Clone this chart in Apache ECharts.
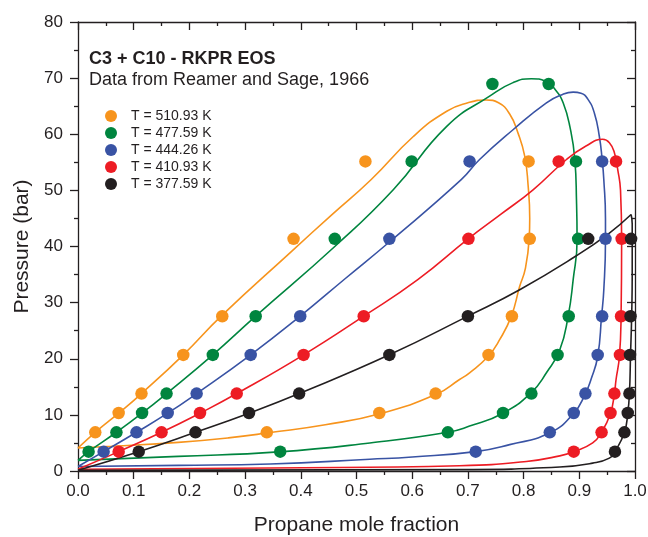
<!DOCTYPE html>
<html>
<head>
<meta charset="utf-8">
<script src="https://cdn.jsdelivr.net/npm/echarts@6/dist/echarts.min.js"></script>
<style>
html,body{margin:0;padding:0;background:#fff;}
#chart{width:648px;height:537px;}
</style>
</head>
<body>
<div id="chart"></div>
<script>
// ---------- DATA ----------
const pressureLevels = [3.45, 6.89, 10.34, 13.79, 20.68, 27.58, 41.37, 55.16, 68.95];
const seriesNames = ['T = 510.93 K', 'T = 477.59 K', 'T = 444.26 K', 'T = 410.93 K', 'T = 377.59 K'];

// measured liquid (bubble) and vapor (dew) propane mole fractions at each pressure level
const bubble510 = [null, 0.031, 0.073, 0.114, 0.189, 0.259, 0.387, 0.516, null];
const dew510    = [null, 0.339, 0.541, 0.642, 0.737, 0.779, 0.811, 0.809, null];
const bubble477 = [0.019, 0.069, 0.115, 0.159, 0.242, 0.319, 0.461, 0.599, 0.744];
const dew477    = [0.363, 0.664, 0.763, 0.814, 0.861, 0.881, 0.898, 0.894, 0.845];
const bubble444 = [0.046, 0.105, 0.161, 0.213, 0.310, 0.399, 0.559, 0.703, null];
const dew444    = [0.714, 0.847, 0.890, 0.911, 0.933, 0.941, 0.947, 0.941, null];
const bubble410 = [0.073, 0.150, 0.219, 0.285, 0.405, 0.513, 0.701, 0.863, null];
const dew410    = [0.890, 0.940, 0.956, 0.963, 0.973, 0.975, 0.976, 0.966, null];
const bubble377 = [0.109, 0.211, 0.307, 0.397, 0.559, 0.700, 0.916, null, null];
const dew377    = [0.964, 0.981, 0.987, 0.990, 0.991, 0.992, 0.993, null, null];

// RKPR EOS model curves [x, P]
const curve510 = [[0,4.1],[0.031,6.9],[0.073,10.3],[0.114,13.8],[0.189,20.7],[0.257,27.6],[0.383,39.1],[0.455,45.6],[0.526,51.9],[0.602,59.6],[0.662,64.1],[0.700,65.6],[0.733,66.1],[0.755,65.6],[0.775,63.6],[0.790,60.2],[0.802,56.1],[0.808,51.0],[0.811,45.0],[0.810,41.4],[0.803,36.0],[0.793,32.9],[0.778,27.6],[0.757,23.4],[0.736,20.4],[0.703,17.5],[0.685,16.3],[0.644,13.7],[0.542,10.2],[0.444,8.25],[0.345,6.85],[0.27,5.9],[0.18,5.1],[0.06,4.4],[0,4.1]];
const curve477 = [[0,1.9],[0.019,3.45],[0.069,6.9],[0.115,10.3],[0.159,13.8],[0.242,20.7],[0.319,27.6],[0.461,40.0],[0.566,50.1],[0.662,61.4],[0.739,66.8],[0.781,69.2],[0.814,69.9],[0.840,69.4],[0.858,67.8],[0.871,65.6],[0.883,61.4],[0.892,55.5],[0.895,48.0],[0.896,41.2],[0.889,34.1],[0.880,27.6],[0.865,21.6],[0.841,17.5],[0.814,14.0],[0.763,10.3],[0.703,8.0],[0.664,6.9],[0.524,5.0],[0.36,3.4],[0.18,2.6],[0,1.9]];
const curve444 = [[0,0.8],[0.046,3.45],[0.105,6.9],[0.161,10.3],[0.213,13.8],[0.310,20.7],[0.399,27.6],[0.480,34.3],[0.559,40.8],[0.688,51.9],[0.721,55.5],[0.781,60.8],[0.841,65.6],[0.870,67.1],[0.889,67.5],[0.903,67.3],[0.915,66.3],[0.927,63.8],[0.936,59.6],[0.941,55.5],[0.944,51.9],[0.947,45.0],[0.947,41.2],[0.944,32.3],[0.940,27.6],[0.933,20.4],[0.921,16.3],[0.911,13.8],[0.890,10.3],[0.847,6.8],[0.775,4.7],[0.714,3.45],[0.60,2.5],[0.524,2.1],[0.345,1.25],[0.18,1.0],[0,0.8]];
const curve410 = [[0,0.3],[0.073,3.45],[0.150,6.9],[0.219,10.3],[0.285,13.8],[0.405,20.7],[0.513,27.6],[0.610,34.1],[0.701,41.4],[0.760,45.8],[0.817,50.1],[0.877,55.5],[0.912,57.9],[0.942,59.1],[0.954,58.5],[0.963,56.7],[0.969,53.7],[0.974,50.0],[0.976,41.2],[0.975,27.6],[0.972,20.4],[0.966,16.3],[0.963,13.8],[0.956,10.3],[0.940,6.9],[0.924,5.0],[0.890,3.45],[0.865,2.7],[0.805,1.7],[0.685,0.94],[0.345,0.53],[0,0.3]];
const curve377bubble = [[0,0.15],[0.109,3.45],[0.211,6.9],[0.307,10.3],[0.397,13.8],[0.559,20.7],[0.700,27.6],[0.793,32.3],[0.894,38.3],[0.954,42.4],[0.993,45.7]];
const curve377dew = [[0.993,45.7],[0.995,44.0],[0.995,35.0],[0.994,27.6],[0.992,20.7],[0.990,13.8],[0.987,10.3],[0.981,6.9],[0.964,3.45],[0.954,2.3],[0.924,1.4],[0.865,0.7],[0.685,0.25],[0,0.12]];

const xTickLabels = ['0.0','0.1','0.2','0.3','0.4','0.5','0.6','0.7','0.8','0.9','1.0'];
const yTickLabels = ['0','10','20','30','40','50','60','70','80'];

// ---------- STYLE ----------
const colors = ['#F7941D', '#00853F', '#3953A4', '#ED1C24', '#231F20'];
const ink = '#231F20';
const FONT = '"Liberation Sans", Arial, Helvetica, sans-serif';

function pts(bub, dew) {
  const out = [];
  pressureLevels.forEach((p, i) => {
    if (bub[i] != null) out.push([bub[i], p]);
    if (dew[i] != null) out.push([dew[i], p]);
  });
  return out;
}
const measured = [pts(bubble510, dew510), pts(bubble477, dew477), pts(bubble444, dew444), pts(bubble410, dew410), pts(bubble377, dew377)];
const curves = [[curve510], [curve477], [curve444], [curve410], [curve377bubble, curve377dew]];

const series = [];
curves.forEach((cs, k) => {
  cs.forEach((c, j) => {
    series.push({
      name: 'model' + k + '_' + j,
      type: 'line',
      data: c,
      smooth: 0.5,
      showSymbol: false,
      symbol: 'none',
      lineStyle: { color: colors[k], width: 1.6 },
      z: 2,
      silent: true
    });
  });
});
measured.forEach((d, k) => {
  series.push({
    name: seriesNames[k],
    type: 'scatter',
    data: d,
    symbol: 'circle',
    symbolSize: 12.5,
    itemStyle: { color: colors[k], opacity: 1 },
    z: 3
  });
});

const axisLine = { show: true, onZero: false, lineStyle: { color: ink, width: 1.3 } };

const option = {
  animation: false,
  backgroundColor: '#fff',
  textStyle: { fontFamily: FONT },
  grid: { left: 78, right: 13, top: 22, bottom: 66, containLabel: false, outerBoundsMode: 'none' },
  legend: {
    data: seriesNames.map(n => ({ name: n, icon: 'circle' })),
    orient: 'vertical',
    left: 100,
    top: 104,
    itemWidth: 12,
    itemHeight: 12,
    itemGap: 3,
    textStyle: { fontFamily: FONT, fontSize: 14, color: ink, padding: [0, 0, 0, 9] },
    selectedMode: false
  },
  graphic: [
    { type: 'text', left: 89, top: 50, style: { text: 'C3 + C10 - RKPR EOS', fontFamily: FONT, fontSize: 18, fontWeight: 'bold', fill: ink } },
    { type: 'text', left: 89, top: 71, style: { text: 'Data from Reamer and Sage, 1966', fontFamily: FONT, fontSize: 18, fill: ink } }
  ],
  xAxis: [
    {
      type: 'value', min: 0, max: 1, interval: 0.1, position: 'bottom',
      name: 'Propane mole fraction', nameLocation: 'middle', nameGap: 44,
      nameTextStyle: { fontFamily: FONT, fontSize: 21, color: ink },
      axisLine: axisLine,
      axisTick: { show: true, inside: false, length: 8, lineStyle: { color: ink, width: 1.3 } },
      minorTick: { show: true, splitNumber: 2, length: 4, lineStyle: { color: ink, width: 1.3 } },
      splitLine: { show: false },
      axisLabel: { margin: 12, fontFamily: FONT, fontSize: 17, color: ink,
        formatter: (v) => xTickLabels[Math.round(v * 10)] }
    },
    {
      type: 'value', min: 0, max: 1, interval: 0.1, position: 'top',
      axisLine: axisLine,
      axisTick: { show: true, inside: true, length: 8, lineStyle: { color: ink, width: 1.3 } },
      minorTick: { show: true, splitNumber: 2, length: 4, lineStyle: { color: ink, width: 1.3 } },
      splitLine: { show: false },
      axisLabel: { show: false }
    }
  ],
  yAxis: [
    {
      type: 'value', min: 0, max: 80, interval: 10, position: 'left',
      name: 'Pressure (bar)', nameLocation: 'middle', nameGap: 45,
      nameTextStyle: { fontFamily: FONT, fontSize: 21, color: ink },
      axisLine: axisLine,
      axisTick: { show: true, inside: false, length: 8, lineStyle: { color: ink, width: 1.3 } },
      minorTick: { show: true, splitNumber: 2, length: 4, lineStyle: { color: ink, width: 1.3 } },
      splitLine: { show: false },
      axisLabel: { margin: 15, fontFamily: FONT, fontSize: 17, color: ink,
        formatter: (v) => yTickLabels[Math.round(v / 10)] }
    },
    {
      type: 'value', min: 0, max: 80, interval: 10, position: 'right',
      axisLine: axisLine,
      axisTick: { show: true, inside: true, length: 8, lineStyle: { color: ink, width: 1.3 } },
      minorTick: { show: true, splitNumber: 2, length: 4, lineStyle: { color: ink, width: 1.3 } },
      splitLine: { show: false },
      axisLabel: { show: false }
    }
  ],
  series: series
};

const chart = echarts.init(document.getElementById('chart'), null, { renderer: 'canvas' });
chart.setOption(option);
</script>
</body>
</html>
